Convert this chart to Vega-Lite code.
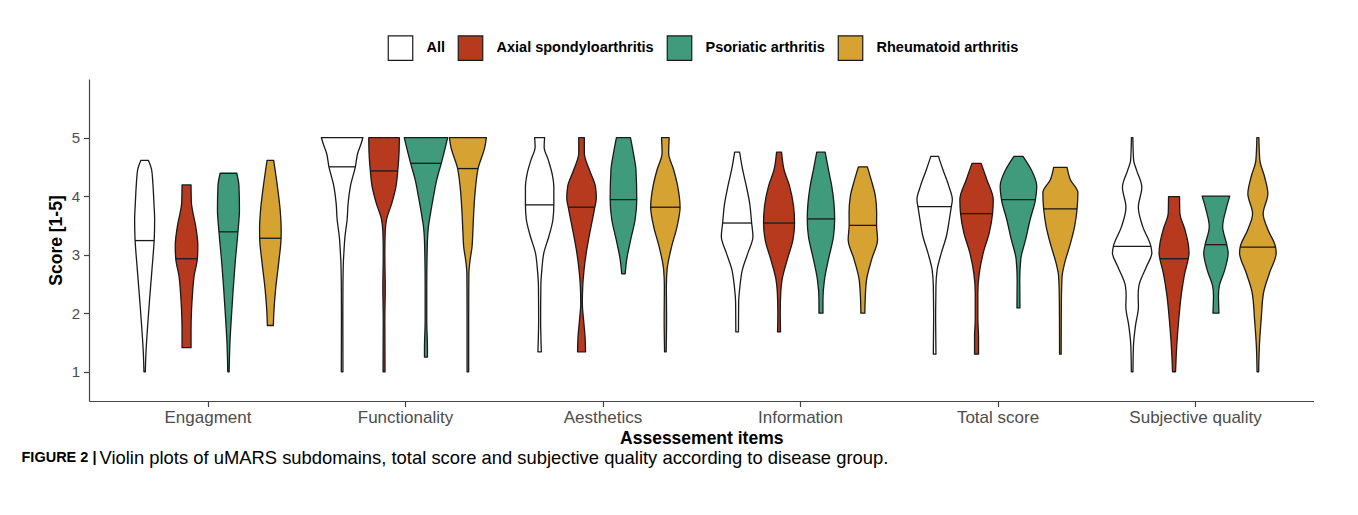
{
  "$schema": "https://vega.github.io/schema/vega-lite/v6.json",
  "padding": {"left": 21, "top": 35, "right": 45, "bottom": 40},
  "background": "white",
  "title": {
    "text": "FIGURE 2 |",
    "orient": "bottom",
    "anchor": "start",
    "frame": "group",
    "offset": 0,
    "dx": -67.5,
    "dy": -16,
    "font": "Liberation Sans",
    "fontSize": 14.5,
    "fontWeight": "bold",
    "color": "black"
  },
  "vconcat": [{
  "width": 1224.5,
  "height": 322,
  "title": {
    "text": "Violin plots of uMARS subdomains, total score and subjective quality according to disease group.",
    "orient": "bottom",
    "anchor": "start",
    "frame": "group",
    "dx": 10.5,
    "offset": 2,
    "font": "Liberation Sans",
    "fontSize": 18.4,
    "fontWeight": "normal",
    "color": "black"
  },
  "data": {"values": [
    {"c":"Engagment","g":"All","k":"o","y":1.0,"w":0.7},{"c":"Engagment","g":"All","k":"o","y":1.32,"w":1.3},{"c":"Engagment","g":"All","k":"o","y":1.61,"w":2.3},{"c":"Engagment","g":"All","k":"o","y":2.18,"w":4.7},{"c":"Engagment","g":"All","k":"o","y":2.74,"w":7.3},{"c":"Engagment","g":"All","k":"o","y":3.31,"w":9.7},{"c":"Engagment","g":"All","k":"o","y":3.6,"w":10},{"c":"Engagment","g":"All","k":"o","y":3.88,"w":9.3},{"c":"Engagment","g":"All","k":"o","y":4.2,"w":8.3},{"c":"Engagment","g":"All","k":"o","y":4.45,"w":7.0},{"c":"Engagment","g":"All","k":"o","y":4.61,"w":3.8},
    {"c":"Engagment","g":"All","k":"m","y":3.24,"w":9.6},
    {"c":"Engagment","g":"Axial spondyloarthritis","k":"o","y":1.41,"w":4.5},{"c":"Engagment","g":"Axial spondyloarthritis","k":"o","y":1.7,"w":4.5},{"c":"Engagment","g":"Axial spondyloarthritis","k":"o","y":2.06,"w":5},{"c":"Engagment","g":"Axial spondyloarthritis","k":"o","y":2.29,"w":5.8},{"c":"Engagment","g":"Axial spondyloarthritis","k":"o","y":2.63,"w":7.5},{"c":"Engagment","g":"Axial spondyloarthritis","k":"o","y":2.93,"w":10.8},{"c":"Engagment","g":"Axial spondyloarthritis","k":"o","y":3.15,"w":11.3},{"c":"Engagment","g":"Axial spondyloarthritis","k":"o","y":3.5,"w":9},{"c":"Engagment","g":"Axial spondyloarthritis","k":"o","y":3.75,"w":6},{"c":"Engagment","g":"Axial spondyloarthritis","k":"o","y":3.9,"w":4.8},{"c":"Engagment","g":"Axial spondyloarthritis","k":"o","y":4.19,"w":4.5},
    {"c":"Engagment","g":"Axial spondyloarthritis","k":"m","y":2.93,"w":10.8},
    {"c":"Engagment","g":"Psoriatic arthritis","k":"o","y":1.0,"w":0.7},{"c":"Engagment","g":"Psoriatic arthritis","k":"o","y":1.25,"w":1},{"c":"Engagment","g":"Psoriatic arthritis","k":"o","y":1.5,"w":1.5},{"c":"Engagment","g":"Psoriatic arthritis","k":"o","y":1.95,"w":3},{"c":"Engagment","g":"Psoriatic arthritis","k":"o","y":2.4,"w":4.7},{"c":"Engagment","g":"Psoriatic arthritis","k":"o","y":2.86,"w":6.7},{"c":"Engagment","g":"Psoriatic arthritis","k":"o","y":3.39,"w":9.5},{"c":"Engagment","g":"Psoriatic arthritis","k":"o","y":3.77,"w":11},{"c":"Engagment","g":"Psoriatic arthritis","k":"o","y":4.17,"w":10.5},{"c":"Engagment","g":"Psoriatic arthritis","k":"o","y":4.39,"w":8.3},
    {"c":"Engagment","g":"Psoriatic arthritis","k":"m","y":3.39,"w":9.5},
    {"c":"Engagment","g":"Rheumatoid arthritis","k":"o","y":1.79,"w":3},{"c":"Engagment","g":"Rheumatoid arthritis","k":"o","y":1.95,"w":3.3},{"c":"Engagment","g":"Rheumatoid arthritis","k":"o","y":2.4,"w":5.2},{"c":"Engagment","g":"Rheumatoid arthritis","k":"o","y":2.86,"w":8.3},{"c":"Engagment","g":"Rheumatoid arthritis","k":"o","y":3.28,"w":10.7},{"c":"Engagment","g":"Rheumatoid arthritis","k":"o","y":3.44,"w":10.8},{"c":"Engagment","g":"Rheumatoid arthritis","k":"o","y":3.72,"w":10},{"c":"Engagment","g":"Rheumatoid arthritis","k":"o","y":4.17,"w":7},{"c":"Engagment","g":"Rheumatoid arthritis","k":"o","y":4.61,"w":3.3},
    {"c":"Engagment","g":"Rheumatoid arthritis","k":"m","y":3.28,"w":10.7},

    {"c":"Functionality","g":"All","k":"o","y":1.0,"w":0.8},{"c":"Functionality","g":"All","k":"o","y":1.87,"w":0.7},{"c":"Functionality","g":"All","k":"o","y":2.43,"w":0.8},{"c":"Functionality","g":"All","k":"o","y":2.9,"w":1.3},{"c":"Functionality","g":"All","k":"o","y":3.02,"w":1.7},{"c":"Functionality","g":"All","k":"o","y":3.3,"w":2.8},{"c":"Functionality","g":"All","k":"o","y":3.6,"w":5},{"c":"Functionality","g":"All","k":"o","y":3.88,"w":6},{"c":"Functionality","g":"All","k":"o","y":4.17,"w":8.3},{"c":"Functionality","g":"All","k":"o","y":4.5,"w":13.2},{"c":"Functionality","g":"All","k":"o","y":4.74,"w":15.7},{"c":"Functionality","g":"All","k":"o","y":4.88,"w":18.7},{"c":"Functionality","g":"All","k":"o","y":5.0,"w":20.8},
    {"c":"Functionality","g":"All","k":"m","y":4.5,"w":13.2},
    {"c":"Functionality","g":"Axial spondyloarthritis","k":"o","y":1.0,"w":1.0},{"c":"Functionality","g":"Axial spondyloarthritis","k":"o","y":1.87,"w":0.8},{"c":"Functionality","g":"Axial spondyloarthritis","k":"o","y":2.43,"w":1.2},{"c":"Functionality","g":"Axial spondyloarthritis","k":"o","y":3.02,"w":0.8},{"c":"Functionality","g":"Axial spondyloarthritis","k":"o","y":3.4,"w":1.2},{"c":"Functionality","g":"Axial spondyloarthritis","k":"o","y":3.6,"w":2.5},{"c":"Functionality","g":"Axial spondyloarthritis","k":"o","y":3.88,"w":7.8},{"c":"Functionality","g":"Axial spondyloarthritis","k":"o","y":4.17,"w":12},{"c":"Functionality","g":"Axial spondyloarthritis","k":"o","y":4.43,"w":13.7},{"c":"Functionality","g":"Axial spondyloarthritis","k":"o","y":4.74,"w":15},{"c":"Functionality","g":"Axial spondyloarthritis","k":"o","y":5.0,"w":15.3},
    {"c":"Functionality","g":"Axial spondyloarthritis","k":"m","y":4.43,"w":13.7},
    {"c":"Functionality","g":"Psoriatic arthritis","k":"o","y":1.25,"w":1.5},{"c":"Functionality","g":"Psoriatic arthritis","k":"o","y":1.4,"w":1.5},{"c":"Functionality","g":"Psoriatic arthritis","k":"o","y":1.87,"w":0.8},{"c":"Functionality","g":"Psoriatic arthritis","k":"o","y":2.43,"w":0.8},{"c":"Functionality","g":"Psoriatic arthritis","k":"o","y":3.14,"w":1.3},{"c":"Functionality","g":"Psoriatic arthritis","k":"o","y":3.48,"w":2.5},{"c":"Functionality","g":"Psoriatic arthritis","k":"o","y":3.7,"w":4.5},{"c":"Functionality","g":"Psoriatic arthritis","k":"o","y":3.99,"w":7.5},{"c":"Functionality","g":"Psoriatic arthritis","k":"o","y":4.28,"w":10.8},{"c":"Functionality","g":"Psoriatic arthritis","k":"o","y":4.56,"w":15.3},{"c":"Functionality","g":"Psoriatic arthritis","k":"o","y":4.84,"w":19.5},{"c":"Functionality","g":"Psoriatic arthritis","k":"o","y":5.0,"w":21.7},
    {"c":"Functionality","g":"Psoriatic arthritis","k":"m","y":4.56,"w":15.3},
    {"c":"Functionality","g":"Rheumatoid arthritis","k":"o","y":1.0,"w":0.8},{"c":"Functionality","g":"Rheumatoid arthritis","k":"o","y":1.87,"w":0.8},{"c":"Functionality","g":"Rheumatoid arthritis","k":"o","y":2.68,"w":1},{"c":"Functionality","g":"Rheumatoid arthritis","k":"o","y":2.85,"w":1.8},{"c":"Functionality","g":"Rheumatoid arthritis","k":"o","y":3.14,"w":4.2},{"c":"Functionality","g":"Rheumatoid arthritis","k":"o","y":3.4,"w":5},{"c":"Functionality","g":"Rheumatoid arthritis","k":"o","y":3.7,"w":5.8},{"c":"Functionality","g":"Rheumatoid arthritis","k":"o","y":4.17,"w":7.8},{"c":"Functionality","g":"Rheumatoid arthritis","k":"o","y":4.47,"w":10.2},{"c":"Functionality","g":"Rheumatoid arthritis","k":"o","y":4.84,"w":17},{"c":"Functionality","g":"Rheumatoid arthritis","k":"o","y":5.0,"w":18.5},
    {"c":"Functionality","g":"Rheumatoid arthritis","k":"m","y":4.47,"w":10.2},

    {"c":"Aesthetics","g":"All","k":"o","y":1.34,"w":1.7},{"c":"Aesthetics","g":"All","k":"o","y":1.89,"w":1},{"c":"Aesthetics","g":"All","k":"o","y":2.46,"w":1.2},{"c":"Aesthetics","g":"All","k":"o","y":2.74,"w":2.2},{"c":"Aesthetics","g":"All","k":"o","y":3.03,"w":4.2},{"c":"Aesthetics","g":"All","k":"o","y":3.31,"w":9.2},{"c":"Aesthetics","g":"All","k":"o","y":3.6,"w":13.3},{"c":"Aesthetics","g":"All","k":"o","y":3.85,"w":14.2},{"c":"Aesthetics","g":"All","k":"o","y":4.15,"w":14.2},{"c":"Aesthetics","g":"All","k":"o","y":4.38,"w":12.5},{"c":"Aesthetics","g":"All","k":"o","y":4.61,"w":8.8},{"c":"Aesthetics","g":"All","k":"o","y":4.84,"w":4.5},{"c":"Aesthetics","g":"All","k":"o","y":5.0,"w":5},
    {"c":"Aesthetics","g":"All","k":"m","y":3.85,"w":14.2},
    {"c":"Aesthetics","g":"Axial spondyloarthritis","k":"o","y":1.34,"w":4},{"c":"Aesthetics","g":"Axial spondyloarthritis","k":"o","y":1.6,"w":3.5},{"c":"Aesthetics","g":"Axial spondyloarthritis","k":"o","y":1.89,"w":2},{"c":"Aesthetics","g":"Axial spondyloarthritis","k":"o","y":2.17,"w":0.8},{"c":"Aesthetics","g":"Axial spondyloarthritis","k":"o","y":2.46,"w":1.2},{"c":"Aesthetics","g":"Axial spondyloarthritis","k":"o","y":2.74,"w":2.5},{"c":"Aesthetics","g":"Axial spondyloarthritis","k":"o","y":3.03,"w":4.7},{"c":"Aesthetics","g":"Axial spondyloarthritis","k":"o","y":3.48,"w":9.5},{"c":"Aesthetics","g":"Axial spondyloarthritis","k":"o","y":3.81,"w":13.3},{"c":"Aesthetics","g":"Axial spondyloarthritis","k":"o","y":3.97,"w":14.8},{"c":"Aesthetics","g":"Axial spondyloarthritis","k":"o","y":4.17,"w":13.8},{"c":"Aesthetics","g":"Axial spondyloarthritis","k":"o","y":4.45,"w":7.8},{"c":"Aesthetics","g":"Axial spondyloarthritis","k":"o","y":4.73,"w":2.8},{"c":"Aesthetics","g":"Axial spondyloarthritis","k":"o","y":5.0,"w":2.8},
    {"c":"Aesthetics","g":"Axial spondyloarthritis","k":"m","y":3.81,"w":13.3},
    {"c":"Aesthetics","g":"Psoriatic arthritis","k":"o","y":2.67,"w":1.7},{"c":"Aesthetics","g":"Psoriatic arthritis","k":"o","y":2.92,"w":3.3},{"c":"Aesthetics","g":"Psoriatic arthritis","k":"o","y":3.26,"w":7.3},{"c":"Aesthetics","g":"Psoriatic arthritis","k":"o","y":3.6,"w":11.7},{"c":"Aesthetics","g":"Psoriatic arthritis","k":"o","y":3.94,"w":13.3},{"c":"Aesthetics","g":"Psoriatic arthritis","k":"o","y":4.45,"w":12.5},{"c":"Aesthetics","g":"Psoriatic arthritis","k":"o","y":4.73,"w":10},{"c":"Aesthetics","g":"Psoriatic arthritis","k":"o","y":5.0,"w":7},
    {"c":"Aesthetics","g":"Psoriatic arthritis","k":"m","y":3.94,"w":13.3},
    {"c":"Aesthetics","g":"Rheumatoid arthritis","k":"o","y":1.34,"w":0.8},{"c":"Aesthetics","g":"Rheumatoid arthritis","k":"o","y":1.89,"w":1.2},{"c":"Aesthetics","g":"Rheumatoid arthritis","k":"o","y":2.46,"w":1},{"c":"Aesthetics","g":"Rheumatoid arthritis","k":"o","y":2.74,"w":1.7},{"c":"Aesthetics","g":"Rheumatoid arthritis","k":"o","y":3.14,"w":6.3},{"c":"Aesthetics","g":"Rheumatoid arthritis","k":"o","y":3.48,"w":11.7},{"c":"Aesthetics","g":"Rheumatoid arthritis","k":"o","y":3.81,"w":14.7},{"c":"Aesthetics","g":"Rheumatoid arthritis","k":"o","y":4.17,"w":12.3},{"c":"Aesthetics","g":"Rheumatoid arthritis","k":"o","y":4.45,"w":8.3},{"c":"Aesthetics","g":"Rheumatoid arthritis","k":"o","y":4.73,"w":3.3},{"c":"Aesthetics","g":"Rheumatoid arthritis","k":"o","y":5.0,"w":3.8},
    {"c":"Aesthetics","g":"Rheumatoid arthritis","k":"m","y":3.81,"w":14.7},

    {"c":"Information","g":"All","k":"o","y":1.68,"w":1.3},{"c":"Information","g":"All","k":"o","y":2.17,"w":1.5},{"c":"Information","g":"All","k":"o","y":2.46,"w":2.8},{"c":"Information","g":"All","k":"o","y":2.74,"w":5.2},{"c":"Information","g":"All","k":"o","y":3.03,"w":10.8},{"c":"Information","g":"All","k":"o","y":3.31,"w":15.8},{"c":"Information","g":"All","k":"o","y":3.54,"w":14.5},{"c":"Information","g":"All","k":"o","y":3.88,"w":12.5},{"c":"Information","g":"All","k":"o","y":4.17,"w":9.2},{"c":"Information","g":"All","k":"o","y":4.45,"w":5.5},{"c":"Information","g":"All","k":"o","y":4.75,"w":2.5},
    {"c":"Information","g":"All","k":"m","y":3.54,"w":14.5},
    {"c":"Information","g":"Axial spondyloarthritis","k":"o","y":1.68,"w":1.5},{"c":"Information","g":"Axial spondyloarthritis","k":"o","y":2.0,"w":1.2},{"c":"Information","g":"Axial spondyloarthritis","k":"o","y":2.35,"w":1.7},{"c":"Information","g":"Axial spondyloarthritis","k":"o","y":2.57,"w":3},{"c":"Information","g":"Axial spondyloarthritis","k":"o","y":2.92,"w":8.3},{"c":"Information","g":"Axial spondyloarthritis","k":"o","y":3.26,"w":14},{"c":"Information","g":"Axial spondyloarthritis","k":"o","y":3.54,"w":15.5},{"c":"Information","g":"Axial spondyloarthritis","k":"o","y":3.83,"w":14.5},{"c":"Information","g":"Axial spondyloarthritis","k":"o","y":4.17,"w":10.5},{"c":"Information","g":"Axial spondyloarthritis","k":"o","y":4.45,"w":5},{"c":"Information","g":"Axial spondyloarthritis","k":"o","y":4.75,"w":2.5},
    {"c":"Information","g":"Axial spondyloarthritis","k":"m","y":3.54,"w":15.5},
    {"c":"Information","g":"Psoriatic arthritis","k":"o","y":2.0,"w":2},{"c":"Information","g":"Psoriatic arthritis","k":"o","y":2.23,"w":2},{"c":"Information","g":"Psoriatic arthritis","k":"o","y":2.57,"w":3.5},{"c":"Information","g":"Psoriatic arthritis","k":"o","y":2.92,"w":7.5},{"c":"Information","g":"Psoriatic arthritis","k":"o","y":3.31,"w":12.5},{"c":"Information","g":"Psoriatic arthritis","k":"o","y":3.61,"w":13.7},{"c":"Information","g":"Psoriatic arthritis","k":"o","y":4.17,"w":10.8},{"c":"Information","g":"Psoriatic arthritis","k":"o","y":4.45,"w":7.5},{"c":"Information","g":"Psoriatic arthritis","k":"o","y":4.75,"w":4.2},
    {"c":"Information","g":"Psoriatic arthritis","k":"m","y":3.61,"w":13.7},
    {"c":"Information","g":"Rheumatoid arthritis","k":"o","y":2.0,"w":2},{"c":"Information","g":"Rheumatoid arthritis","k":"o","y":2.23,"w":2.3},{"c":"Information","g":"Rheumatoid arthritis","k":"o","y":2.57,"w":3.7},{"c":"Information","g":"Rheumatoid arthritis","k":"o","y":2.92,"w":8.8},{"c":"Information","g":"Rheumatoid arthritis","k":"o","y":3.26,"w":14.7},{"c":"Information","g":"Rheumatoid arthritis","k":"o","y":3.5,"w":13.7},{"c":"Information","g":"Rheumatoid arthritis","k":"o","y":3.71,"w":13.8},{"c":"Information","g":"Rheumatoid arthritis","k":"o","y":4.0,"w":12.5},{"c":"Information","g":"Rheumatoid arthritis","k":"o","y":4.28,"w":8.3},{"c":"Information","g":"Rheumatoid arthritis","k":"o","y":4.5,"w":4.5},
    {"c":"Information","g":"Rheumatoid arthritis","k":"m","y":3.5,"w":13.7},

    {"c":"Total score","g":"All","k":"o","y":1.3,"w":1.3},{"c":"Total score","g":"All","k":"o","y":1.89,"w":1},{"c":"Total score","g":"All","k":"o","y":2.46,"w":1.3},{"c":"Total score","g":"All","k":"o","y":2.74,"w":2.5},{"c":"Total score","g":"All","k":"o","y":3.03,"w":6.7},{"c":"Total score","g":"All","k":"o","y":3.31,"w":11.7},{"c":"Total score","g":"All","k":"o","y":3.6,"w":14.7},{"c":"Total score","g":"All","k":"o","y":3.82,"w":16.7},{"c":"Total score","g":"All","k":"o","y":3.94,"w":17.7},{"c":"Total score","g":"All","k":"o","y":4.17,"w":14.2},{"c":"Total score","g":"All","k":"o","y":4.45,"w":8.3},{"c":"Total score","g":"All","k":"o","y":4.68,"w":3.8},
    {"c":"Total score","g":"All","k":"m","y":3.82,"w":16.7},
    {"c":"Total score","g":"Axial spondyloarthritis","k":"o","y":1.3,"w":2},{"c":"Total score","g":"Axial spondyloarthritis","k":"o","y":1.6,"w":2},{"c":"Total score","g":"Axial spondyloarthritis","k":"o","y":1.89,"w":1.3},{"c":"Total score","g":"Axial spondyloarthritis","k":"o","y":2.35,"w":1.3},{"c":"Total score","g":"Axial spondyloarthritis","k":"o","y":2.68,"w":2.7},{"c":"Total score","g":"Axial spondyloarthritis","k":"o","y":3.03,"w":6.7},{"c":"Total score","g":"Axial spondyloarthritis","k":"o","y":3.37,"w":12.7},{"c":"Total score","g":"Axial spondyloarthritis","k":"o","y":3.7,"w":16},{"c":"Total score","g":"Axial spondyloarthritis","k":"o","y":3.94,"w":16.7},{"c":"Total score","g":"Axial spondyloarthritis","k":"o","y":4.28,"w":10.3},{"c":"Total score","g":"Axial spondyloarthritis","k":"o","y":4.56,"w":4.5},
    {"c":"Total score","g":"Axial spondyloarthritis","k":"m","y":3.7,"w":16},
    {"c":"Total score","g":"Psoriatic arthritis","k":"o","y":2.09,"w":1.5},{"c":"Total score","g":"Psoriatic arthritis","k":"o","y":2.57,"w":1.3},{"c":"Total score","g":"Psoriatic arthritis","k":"o","y":2.92,"w":2.3},{"c":"Total score","g":"Psoriatic arthritis","k":"o","y":3.26,"w":7.2},{"c":"Total score","g":"Psoriatic arthritis","k":"o","y":3.6,"w":11.7},{"c":"Total score","g":"Psoriatic arthritis","k":"o","y":3.94,"w":17},{"c":"Total score","g":"Psoriatic arthritis","k":"o","y":4.17,"w":18.3},{"c":"Total score","g":"Psoriatic arthritis","k":"o","y":4.45,"w":12.8},{"c":"Total score","g":"Psoriatic arthritis","k":"o","y":4.68,"w":4.5},
    {"c":"Total score","g":"Psoriatic arthritis","k":"m","y":3.94,"w":17},
    {"c":"Total score","g":"Rheumatoid arthritis","k":"o","y":1.3,"w":0.8},{"c":"Total score","g":"Rheumatoid arthritis","k":"o","y":2.17,"w":1},{"c":"Total score","g":"Rheumatoid arthritis","k":"o","y":2.62,"w":1.7},{"c":"Total score","g":"Rheumatoid arthritis","k":"o","y":2.85,"w":4.2},{"c":"Total score","g":"Rheumatoid arthritis","k":"o","y":3.14,"w":9.2},{"c":"Total score","g":"Rheumatoid arthritis","k":"o","y":3.48,"w":14.2},{"c":"Total score","g":"Rheumatoid arthritis","k":"o","y":3.78,"w":16.7},{"c":"Total score","g":"Rheumatoid arthritis","k":"o","y":4.06,"w":17.5},{"c":"Total score","g":"Rheumatoid arthritis","k":"o","y":4.28,"w":10},{"c":"Total score","g":"Rheumatoid arthritis","k":"o","y":4.49,"w":6.7},
    {"c":"Total score","g":"Rheumatoid arthritis","k":"m","y":3.78,"w":16.7},

    {"c":"Subjective quality","g":"All","k":"o","y":1.0,"w":0.8},{"c":"Subjective quality","g":"All","k":"o","y":1.44,"w":1.3},{"c":"Subjective quality","g":"All","k":"o","y":1.78,"w":3.3},{"c":"Subjective quality","g":"All","k":"o","y":2.12,"w":6.3},{"c":"Subjective quality","g":"All","k":"o","y":2.3,"w":6},{"c":"Subjective quality","g":"All","k":"o","y":2.46,"w":6.7},{"c":"Subjective quality","g":"All","k":"o","y":2.8,"w":14.5},{"c":"Subjective quality","g":"All","k":"o","y":3.03,"w":19.7},{"c":"Subjective quality","g":"All","k":"o","y":3.14,"w":18.8},{"c":"Subjective quality","g":"All","k":"o","y":3.47,"w":10.8},{"c":"Subjective quality","g":"All","k":"o","y":3.81,"w":6.2},{"c":"Subjective quality","g":"All","k":"o","y":4.15,"w":9.7},{"c":"Subjective quality","g":"All","k":"o","y":4.44,"w":4.5},{"c":"Subjective quality","g":"All","k":"o","y":4.61,"w":1.5},{"c":"Subjective quality","g":"All","k":"o","y":5.0,"w":0.7},
    {"c":"Subjective quality","g":"All","k":"m","y":3.14,"w":18.8},
    {"c":"Subjective quality","g":"Axial spondyloarthritis","k":"o","y":1.0,"w":1.5},{"c":"Subjective quality","g":"Axial spondyloarthritis","k":"o","y":1.44,"w":2.7},{"c":"Subjective quality","g":"Axial spondyloarthritis","k":"o","y":1.89,"w":4.7},{"c":"Subjective quality","g":"Axial spondyloarthritis","k":"o","y":2.35,"w":7.5},{"c":"Subjective quality","g":"Axial spondyloarthritis","k":"o","y":2.69,"w":10.8},{"c":"Subjective quality","g":"Axial spondyloarthritis","k":"o","y":2.93,"w":14.2},{"c":"Subjective quality","g":"Axial spondyloarthritis","k":"o","y":3.03,"w":15},{"c":"Subjective quality","g":"Axial spondyloarthritis","k":"o","y":3.2,"w":14},{"c":"Subjective quality","g":"Axial spondyloarthritis","k":"o","y":3.43,"w":10.8},{"c":"Subjective quality","g":"Axial spondyloarthritis","k":"o","y":3.71,"w":5.8},{"c":"Subjective quality","g":"Axial spondyloarthritis","k":"o","y":3.99,"w":5.5},
    {"c":"Subjective quality","g":"Axial spondyloarthritis","k":"m","y":2.93,"w":14.2},
    {"c":"Subjective quality","g":"Psoriatic arthritis","k":"o","y":2.0,"w":3},{"c":"Subjective quality","g":"Psoriatic arthritis","k":"o","y":2.3,"w":2.5},{"c":"Subjective quality","g":"Psoriatic arthritis","k":"o","y":2.46,"w":3.3},{"c":"Subjective quality","g":"Psoriatic arthritis","k":"o","y":2.74,"w":8.8},{"c":"Subjective quality","g":"Psoriatic arthritis","k":"o","y":3.03,"w":12.2},{"c":"Subjective quality","g":"Psoriatic arthritis","k":"o","y":3.17,"w":10.8},{"c":"Subjective quality","g":"Psoriatic arthritis","k":"o","y":3.48,"w":6.7},{"c":"Subjective quality","g":"Psoriatic arthritis","k":"o","y":3.77,"w":10},{"c":"Subjective quality","g":"Psoriatic arthritis","k":"o","y":4.0,"w":13.8},
    {"c":"Subjective quality","g":"Psoriatic arthritis","k":"m","y":3.17,"w":10.8},
    {"c":"Subjective quality","g":"Rheumatoid arthritis","k":"o","y":1.0,"w":0.8},{"c":"Subjective quality","g":"Rheumatoid arthritis","k":"o","y":1.44,"w":1.5},{"c":"Subjective quality","g":"Rheumatoid arthritis","k":"o","y":1.89,"w":3.3},{"c":"Subjective quality","g":"Rheumatoid arthritis","k":"o","y":2.35,"w":5.7},{"c":"Subjective quality","g":"Rheumatoid arthritis","k":"o","y":2.69,"w":11.7},{"c":"Subjective quality","g":"Rheumatoid arthritis","k":"o","y":3.03,"w":18.3},{"c":"Subjective quality","g":"Rheumatoid arthritis","k":"o","y":3.13,"w":17.7},{"c":"Subjective quality","g":"Rheumatoid arthritis","k":"o","y":3.43,"w":10},{"c":"Subjective quality","g":"Rheumatoid arthritis","k":"o","y":3.7,"w":5.3},{"c":"Subjective quality","g":"Rheumatoid arthritis","k":"o","y":4.04,"w":10},{"c":"Subjective quality","g":"Rheumatoid arthritis","k":"o","y":4.33,"w":6.7},{"c":"Subjective quality","g":"Rheumatoid arthritis","k":"o","y":4.61,"w":2},{"c":"Subjective quality","g":"Rheumatoid arthritis","k":"o","y":5.0,"w":1},
    {"c":"Subjective quality","g":"Rheumatoid arthritis","k":"m","y":3.13,"w":17.7}
  ]},
  "transform": [
    {"calculate": "indexof(['Engagment','Functionality','Aesthetics','Information','Total score','Subjective quality'], datum.c) + 1 + (indexof(['All','Axial spondyloarthritis','Psoriatic arthritis','Rheumatoid arthritis'], datum.g) - 1.5) * 0.2122", "as": "cx"},
    {"calculate": "datum.cx - datum.w / 197.5", "as": "xl"},
    {"calculate": "datum.cx + datum.w / 197.5", "as": "xr"}
  ],
  "encoding": {
    "y": {
      "field": "y", "type": "quantitative",
      "scale": {"domain": [0.5, 6.0], "nice": false, "zero": false},
      "axis": {"values": [1, 2, 3, 4, 5], "title": "Score [1-5]", "grid": false, "tickSize": 5.5, "labelPadding": 4, "labelFontSize": 15, "titleFontSize": 17.5, "titlePadding": 6}
    },
    "x": {
      "field": "xl", "type": "quantitative",
      "scale": {"domain": [0.4, 6.6], "nice": false, "zero": false},
      "axis": {"values": [1, 2, 3, 4, 5, 6], "title": "Assessement items", "grid": false, "tickSize": 5.5, "labelPadding": 3, "labelFontSize": 17, "titleFontSize": 17.5, "titlePadding": 4, "labelOverlap": false, "labelFlush": false,
        "labelExpr": "['Engagment','Functionality','Aesthetics','Information','Total score','Subjective quality'][datum.value - 1]"}
    },
    "x2": {"field": "xr"}
  },
  "layer": [
    {
      "transform": [{"filter": "datum.k === 'o'"}],
      "mark": {"type": "area", "orient": "horizontal", "interpolate": "monotone", "stroke": "#1a1a1a", "strokeWidth": 1.3, "strokeJoin": "round", "fillOpacity": 1},
      "encoding": {
        "fill": {
          "field": "g", "type": "nominal",
          "scale": {"domain": ["All", "Axial spondyloarthritis", "Psoriatic arthritis", "Rheumatoid arthritis"], "range": ["#ffffff", "#B7391E", "#3F9B7B", "#D6A332"]},
          "legend": {"orient": "none", "legendX": 298.5, "legendY": -44, "direction": "horizontal", "title": null, "symbolType": "square", "symbolSize": 600, "symbolStrokeColor": "#1a1a1a", "symbolStrokeWidth": 1.2, "symbolOpacity": 1, "labelFont": "Liberation Sans", "labelFontSize": 14.5, "labelFontWeight": "bold", "labelColor": "black", "labelOffset": 13, "columnPadding": 10, "padding": 0}
        },
        "detail": {"field": "c"}
      }
    },
    {
      "transform": [{"filter": "datum.k === 'm'"}],
      "mark": {"type": "rule", "color": "#1a1a1a", "strokeWidth": 1.3}
    }
  ]
  }],
  "config": {
    "view": {"stroke": null},
    "font": "Liberation Sans",
    "axis": {"domainColor": "#444", "domainWidth": 1.2, "tickColor": "#444", "tickWidth": 1.2, "labelColor": "#4D4D4D", "labelFont": "Liberation Sans", "titleFont": "Liberation Sans", "titleColor": "black", "titleFontWeight": "bold"}
  }
}
